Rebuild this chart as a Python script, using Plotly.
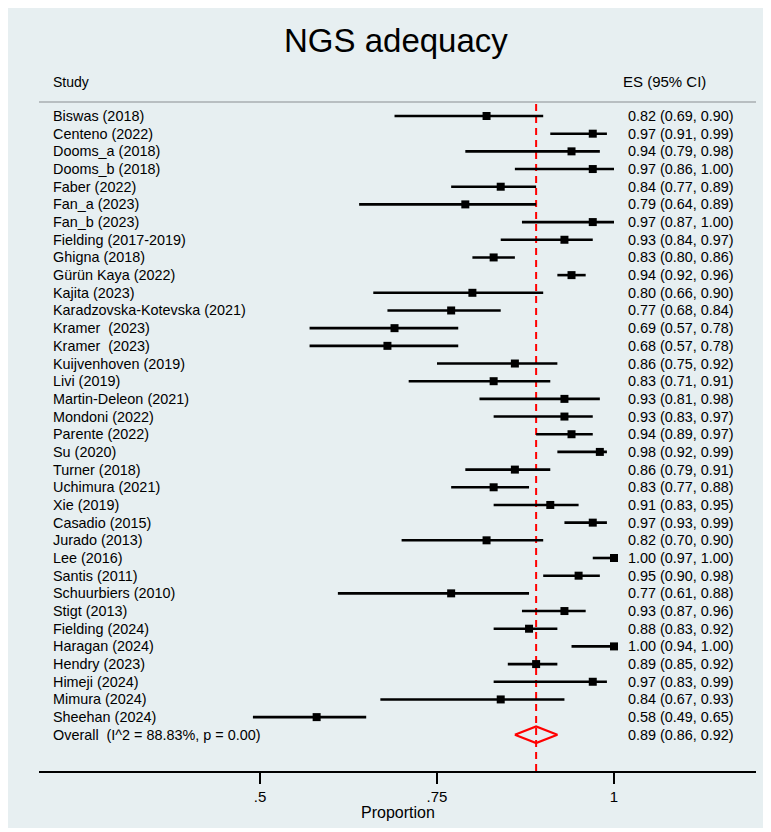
import plotly.graph_objects as go

# ---------------- data ----------------
studies = [
    "Biswas (2018)", "Centeno (2022)", "Dooms_a (2018)", "Dooms_b (2018)",
    "Faber (2022)", "Fan_a (2023)", "Fan_b (2023)", "Fielding (2017-2019)",
    "Ghigna (2018)", "Gürün Kaya (2022)", "Kajita (2023)",
    "Karadzovska-Kotevska (2021)", "Kramer  (2023)", "Kramer  (2023)",
    "Kuijvenhoven (2019)", "Livi (2019)", "Martin-Deleon (2021)",
    "Mondoni (2022)", "Parente (2022)", "Su (2020)", "Turner (2018)",
    "Uchimura (2021)", "Xie (2019)", "Casadio (2015)", "Jurado (2013)",
    "Lee (2016)", "Santis (2011)", "Schuurbiers (2010)", "Stigt (2013)",
    "Fielding (2024)", "Haragan (2024)", "Hendry (2023)", "Himeji (2024)",
    "Mimura (2024)", "Sheehan (2024)",
]
es = [0.82, 0.97, 0.94, 0.97, 0.84, 0.79, 0.97, 0.93, 0.83, 0.94, 0.80,
      0.77, 0.69, 0.68, 0.86, 0.83, 0.93, 0.93, 0.94, 0.98, 0.86, 0.83,
      0.91, 0.97, 0.82, 1.00, 0.95, 0.77, 0.93, 0.88, 1.00, 0.89, 0.97,
      0.84, 0.58]
lo = [0.69, 0.91, 0.79, 0.86, 0.77, 0.64, 0.87, 0.84, 0.80, 0.92, 0.66,
      0.68, 0.57, 0.57, 0.75, 0.71, 0.81, 0.83, 0.89, 0.92, 0.79, 0.77,
      0.83, 0.93, 0.70, 0.97, 0.90, 0.61, 0.87, 0.83, 0.94, 0.85, 0.83,
      0.67, 0.49]
hi = [0.90, 0.99, 0.98, 1.00, 0.89, 0.89, 1.00, 0.97, 0.86, 0.96, 0.90,
      0.84, 0.78, 0.78, 0.92, 0.91, 0.98, 0.97, 0.97, 0.99, 0.91, 0.88,
      0.95, 0.99, 0.90, 1.00, 0.98, 0.88, 0.96, 0.92, 1.00, 0.92, 0.99,
      0.93, 0.65]
overall_label = "Overall  (I^2 = 88.83%, p = 0.00)"
overall_es, overall_lo, overall_hi = 0.89, 0.86, 0.92
tick_vals = [0.5, 0.75, 1.0]
tick_text = [".5", ".75", "1"]
title_text = "NGS adequacy"
x_title = "Proportion"
col_left_head = "Study"
col_right_head = "ES (95% CI)"

# ---------------- layout geometry (page pixels) ----------------
OFF = 8                      # default body margin of the html page
PAGE_W, PAGE_H = 771, 832
W, H = PAGE_W - OFF, PAGE_H - OFF
L, R, T, B = 39, 756, 62, 771   # plot area in page pixels
ROW0, STEP = 116, 17.68
X_AT_L = (L + 94) / 708.0
X_AT_R = (R + 94) / 708.0
FONT = "Liberation Sans, Arial, Helvetica, sans-serif"


def py(p):
    return (B - p) / (B - T)


def pxp(p):
    return (p - L) / (R - L)


n = len(studies)
rows = list(range(n))
overall_row = n

fig = go.Figure()

# CI lines
cx, cy = [], []
for i in rows:
    cx += [lo[i], hi[i], None]
    cy += [i, i, None]
fig.add_trace(go.Scatter(x=cx, y=cy, mode="lines",
                         line=dict(color="black", width=2.6),
                         hoverinfo="skip", showlegend=False))
# point estimates
fig.add_trace(go.Scatter(x=es, y=rows, mode="markers",
                         marker=dict(symbol="square", size=8, color="black"),
                         hoverinfo="skip", showlegend=False))
# overall diamond
dh = 0.47
fig.add_trace(go.Scatter(
    x=[overall_lo, overall_es, overall_hi, overall_es, overall_lo],
    y=[overall_row, overall_row - dh, overall_row, overall_row + dh, overall_row],
    mode="lines", line=dict(color="#ff0000", width=2.2),
    hoverinfo="skip", showlegend=False))

shapes = [
    # outer graph region
    dict(type="rect", xref="paper", yref="paper", layer="below",
         x0=pxp(OFF - 2), x1=pxp(PAGE_W + 5), y0=py(828), y1=py(OFF - 2),
         fillcolor="#e7eff1", line=dict(width=0)),
    # header separator
    dict(type="line", xref="paper", yref="paper",
         x0=0, x1=1, y0=py(102), y1=py(102),
         line=dict(color="#a9aeb0", width=1.3)),
    # overall dashed line
    dict(type="line", xref="x", yref="paper", layer="below",
         x0=overall_es, x1=overall_es, y0=0, y1=py(104),
         line=dict(color="#ff0000", width=2, dash="7px,5px")),
]

ann = []
ann.append(dict(text=title_text, xref="paper", yref="paper",
                x=pxp(396), y=py(40), xanchor="center", yanchor="middle",
                showarrow=False, font=dict(family=FONT, size=33, color="black")))
ann.append(dict(text=col_left_head, xref="paper", yref="paper",
                x=pxp(51), y=py(82), xanchor="left", yanchor="middle",
                showarrow=False, font=dict(family=FONT, size=14, color="black")))
ann.append(dict(text=col_right_head, xref="paper", yref="paper",
                x=pxp(621), y=py(82), xanchor="left", yanchor="middle",
                showarrow=False, font=dict(family=FONT, size=15, color="black")))
for i in rows:
    ann.append(dict(text=studies[i], xref="paper", yref="y",
                    x=pxp(51), y=i, xanchor="left", yanchor="middle",
                    showarrow=False, font=dict(family=FONT, size=14.4, color="black")))
    ann.append(dict(text=f"{es[i]:.2f} ({lo[i]:.2f}, {hi[i]:.2f})",
                    xref="paper", yref="y",
                    x=pxp(626), y=i, xanchor="left", yanchor="middle",
                    showarrow=False, font=dict(family=FONT, size=14.4, color="black")))
ann.append(dict(text=overall_label, xref="paper", yref="y",
                x=pxp(51), y=overall_row, xanchor="left", yanchor="middle",
                showarrow=False, font=dict(family=FONT, size=14.4, color="black")))
ann.append(dict(text=f"{overall_es:.2f} ({overall_lo:.2f}, {overall_hi:.2f})",
                xref="paper", yref="y",
                x=pxp(626), y=overall_row, xanchor="left", yanchor="middle",
                showarrow=False, font=dict(family=FONT, size=14.4, color="black")))
ann.append(dict(text=x_title, xref="paper", yref="paper",
                x=pxp(398), y=py(813), xanchor="center", yanchor="middle",
                showarrow=False, font=dict(family=FONT, size=16, color="black")))

fig.update_layout(
    width=W, height=H, autosize=False,
    margin=dict(l=L - OFF, r=PAGE_W - R, t=T - OFF, b=PAGE_H - B, pad=0),
    paper_bgcolor="white", plot_bgcolor="#ebf2f4",
    shapes=shapes, annotations=ann, showlegend=False,
    xaxis=dict(range=[X_AT_L, X_AT_R], showgrid=False, zeroline=False,
               showline=True, linecolor="black", linewidth=1.5,
               ticks="outside", ticklen=11, tickwidth=1.5, tickcolor="black",
               tickvals=tick_vals, ticktext=tick_text,
               tickfont=dict(family=FONT, size=15, color="black")),
    yaxis=dict(range=[(B - ROW0) / STEP, (T - ROW0) / STEP], visible=False,
               showgrid=False, zeroline=False),
)

fig.write_html("out.html")
